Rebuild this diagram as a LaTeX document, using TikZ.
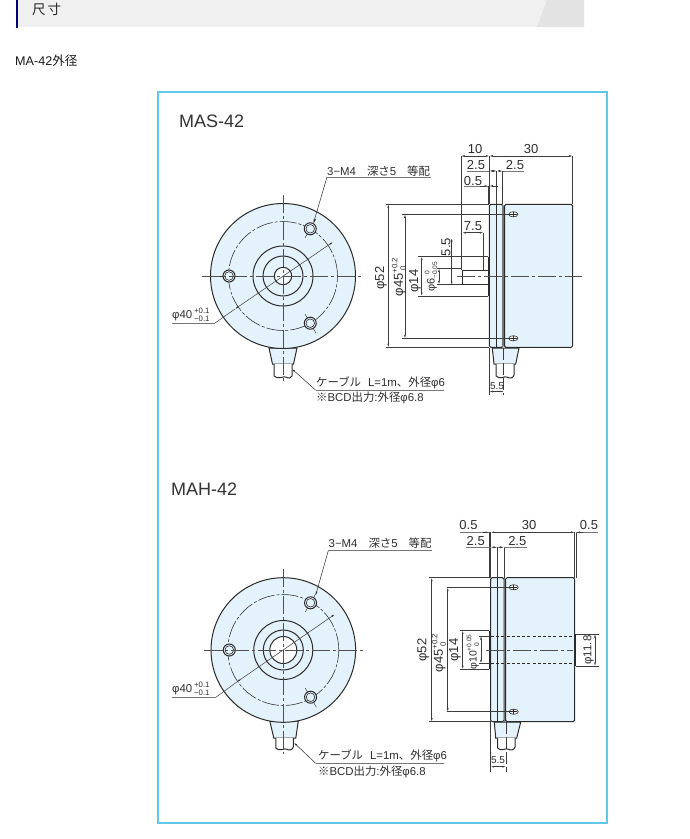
\documentclass[tikz,border=0pt]{standalone}
\usepackage{fontspec}
\setmainfont{Liberation Sans}
\newfontfamily\cjk{Noto Sans CJK JP}
\usetikzlibrary{arrows.meta}
\definecolor{bodyblue}{HTML}{E4F2FB}
\definecolor{ink}{HTML}{2B2B2B}
\definecolor{dimc}{HTML}{3C3C3C}
\definecolor{framec}{HTML}{62C6E6}
\newcommand\tolstack[2]{\raisebox{-3pt}{\fontsize{7.8}{8}\selectfont\shortstack[l]{#1\\#2}}}
\newcommand\tinytol[2]{\raisebox{-2.6pt}{\fontsize{6.6}{6.6}\selectfont\shortstack[l]{#1\\#2}}}
\tikzset{
  outl/.style={draw=ink,line width=1pt},
  thin line/.style={draw=dimc,line width=0.5pt},
  dimln/.style={draw=dimc,line width=0.5pt,{Latex[length=3.5pt,width=1.8pt]}-{Latex[length=3.5pt,width=1.8pt]}},
  ulead/.style={draw=dimc!70,line width=0.7pt},
  cline/.style={draw=dimc!90,line width=0.55pt,dash pattern=on 18pt off 3pt on 3pt off 3pt},
  pcd/.style={draw=ink,line width=0.55pt,dash pattern=on 17pt off 2pt on 3pt off 2pt},
  lab/.style={inner sep=0pt,text=black!82,font=\fontsize{13}{14}\selectfont},
  smlab/.style={inner sep=0pt,text=black!82,font=\fontsize{11.4}{12}\selectfont},
  vlab/.style={lab,rotate=90},
  heading/.style={inner sep=0pt,anchor=west,text=black!80,font=\fontsize{18}{18}\selectfont}
}
\newcommand\frontholes{%
  \foreach \a/\r in {180/54,-60/54.5,60/54.5}{
    \draw[thin line] (\a:44) -- (\a:66);
    \draw[outl,fill=bodyblue] (\a:\r) circle[radius=6pt];
    \draw[outl,line width=0.6pt] (\a:\r) circle[radius=4.3pt];
  }
}
\begin{document}
\begin{tikzpicture}[x=1pt,y=-1pt]
\useasboundingbox (0,0) rectangle (689,839);
\fill[white] (0,0) rectangle (689,839);
% header
\fill[black!6] (16,0) rectangle (584,27);
\fill[black!11] (537,27) -- (547,0) -- (584,0) -- (584,27) -- cycle;
\fill[blue!45!black] (16,0) rectangle (17.5,28);
\node[inner sep=0pt,anchor=west,text=black!85,font=\cjk\fontsize{13.5}{14}\selectfont] (hd) at (32,9) {尺\hspace{2pt}寸};
\node[inner sep=0pt,anchor=west,text=black!90,font=\fontsize{12.6}{13}\selectfont] (sub) at (15,61) {MA-42{\cjk 外径}};
\draw[framec,line width=1.4pt] (158,92) rectangle (607,823);

\node[heading] (t1) at (179,121) {MAS-42};
\node[heading] (t2) at (171,489) {MAH-42};

%%%%% MAS front
\begin{scope}[shift={(283,276)}]
  \draw[outl,fill=bodyblue] (-14,72) -- (-10.5,88) -- (10.5,88) -- (14,72) -- cycle;
  \draw[outl,fill=white] (-9,88) -- (-9,100) .. controls (-5,104) and (0,100) .. (3,101) .. controls (6,103) and (8,102) .. (9,100) -- (9,88);
  \draw[outl,fill=bodyblue] (0,0) circle[radius=72.5pt];
  \draw[pcd] (0,0) circle[radius=54.5pt];
  \frontholes
  \draw[outl] (0,0) circle[radius=30pt];
  \draw[outl] (0,0) circle[radius=20pt];
  \draw[outl,fill=bodyblue!40] (0,0) circle[radius=8.7pt];
  \draw[cline] (-81,0) -- (80,0);
  \draw[cline] (0,-81) -- (0,106);
  \draw[dimln] (50,-34) -- (-48,33);
  \draw[thin line] (-48,33) -- (-68,47);
\end{scope}
\draw[ulead] (215,323) -- (172,323);
\node[smlab,anchor=west] (a1) at (172,315) {φ40\,\tolstack{+0.1}{−0.1}};
\draw[ink,line width=0.5pt,-{Latex[length=3.5pt,width=1.8pt]}] (327,177) -- (313.5,223);
\draw[ulead] (327,177) -- (431,177);
\node[smlab,anchor=west] (a2) at (327,171) {3−M4\hspace{11pt}{\cjk 深さ}5\hspace{11pt}{\cjk 等配}};
\draw[ink,line width=0.5pt,-{Latex[length=3.5pt,width=1.8pt]}] (315.5,390) -- (292,369);
\draw[ulead] (315.5,390) -- (444,390);
\node[smlab,anchor=west] (a3) at (316,383) {{\cjk ケーブル}\hspace{7pt}L=1m{\cjk 、外径}φ6};
\node[smlab,anchor=west] (a4) at (316,398) {{\cjk ※}BCD{\cjk 出力}:{\cjk 外径}φ6.8};

%%%%% MAS side
\draw[outl,fill=bodyblue] (492.3,348) -- (494,364) -- (515.7,364) -- (519,348) -- cycle;
\draw[outl,fill=white] (496,364) -- (496,376) .. controls (500,380) and (504,376) .. (507,377) .. controls (510,379) and (513,378) .. (514,375) -- (514,364);
\draw[outl,fill=white] (462.3,270) rectangle (488,284.3);
\fill[ink] (487.5,256.7) rectangle (489.6,296);
\draw[outl,fill=bodyblue,rounded corners=1.5pt] (489.3,204.3) rectangle (503,347.3);
\draw[outl,fill=bodyblue,rounded corners=1.5pt] (504.5,204.3) rectangle (572.7,347.3);
\draw[outl] (496.7,204.3) -- (496.7,347.3);
\draw[draw=dimc!70,line width=1.2pt] (502.5,204.3) -- (502.5,347.3);
\foreach \yy in {214.3,338.3}{
  \draw[ink,fill=white,line width=0.6pt] (513.3,\yy) ellipse[x radius=4.6pt,y radius=2.6pt];
  \draw[ink,line width=0.5pt] (510,\yy) -- (516.6,\yy) (513.3,\yy-2.6) -- (513.3,\yy+2.6);
}
\draw[cline] (457,276.7) -- (582,276.7);
\draw[dimc,line width=0.5pt,dash pattern=on 12pt off 3pt] (503.7,348) -- (503.7,395);
% extension lines
\path[thin line] (461,156) -- (461,270)
  (489.3,156) -- (489.3,204) (572.7,156) -- (572.7,204)
  (496.7,171) -- (496.7,204) (502.7,171) -- (502.7,204)
  (488,186) -- (488,204)
  (483.3,232.7) -- (483.3,270)
  (386,204.3) -- (489.3,204.3) (386,347.3) -- (489.3,347.3)
  (402,214.3) -- (510,214.3) (402,338.3) -- (510,338.3)
  (418,256.7) -- (488,256.7) (418,296) -- (488,296)
  (437,268.3) -- (462,268.3) (437,284.3) -- (462,284.3)
  (489.3,348) -- (489.3,395);
\draw[dimln] (461,156) -- (489.3,156);
\draw[dimln] (489.3,156) -- (572.7,156);
\draw[dimln] (489.3,171) -- (496.7,171);
\draw[dimln] (496.7,171) -- (502.7,171);
\draw[ulead] (466.7,171) -- (489.3,171) (503,171) -- (524,171);
\draw[ulead] (464,186) -- (488,186);
\draw[thin line,-{Latex[length=3.5pt,width=1.8pt]}] (480,186) -- (488,186);
\draw[thin line,-{Latex[length=3.5pt,width=1.8pt]}] (498,186) -- (489.3,186);
\draw[dimln] (462.3,232.7) -- (483.3,232.7);
\draw[dimln] (451.7,238) -- (451.7,285);
\draw[dimln] (421.7,256.7) -- (421.7,296);
\draw[dimln] (439,268.3) -- (439,284.3);
\draw[dimln] (405,214.3) -- (405,338.3);
\draw[dimln] (388.3,204.3) -- (388.3,347.3);
\draw[dimln] (489.3,391.5) -- (504,391.5);
\node[lab] (b1) at (475,149) {10};
\node[lab] (b2) at (531,149) {30};
\node[lab] (b3) at (476,165) {2.5};
\node[lab] (b4) at (515,165) {2.5};
\node[lab] (b5) at (473,181) {0.5};
\node[lab] (b6) at (473,226) {7.5};
\node[vlab] (b7) at (446,247) {5.5};
\node[vlab] (b8) at (415,281) {φ14};
\node[vlab,font=\fontsize{11}{12}\selectfont] (b9) at (431,277) {φ6\tinytol{\,\,\,\,0}{−0.05}};
\node[vlab] (b10) at (399,277) {φ45\tolstack{+0.2}{\,\,0}};
\node[vlab] (b11) at (381,278) {φ52};
\node[inner sep=0pt,text=black!82,font=\fontsize{10}{10}\selectfont] (b12) at (497,386) {5.5};

%%%%% MAH front
\begin{scope}[shift={(283.3,650)}]
  \draw[outl,fill=bodyblue] (-13.5,71) -- (-9.5,88) -- (12.5,88) -- (15,71) -- cycle;
  \draw[outl,fill=white] (-7.5,88) -- (-7.5,98) .. controls (-4,102) and (1,98) .. (3,99) .. controls (6,101) and (9,100) .. (10,97) -- (10,88);
  \draw[outl,fill=bodyblue] (0,0) circle[radius=72.3pt];
  \draw[pcd] (0,0) circle[radius=55.5pt];
  \frontholes
  \draw[outl] (0,0) circle[radius=29.5pt];
  \draw[outl] (0,0) circle[radius=20pt];
  \draw[outl,fill=white] (0,0) circle[radius=13.5pt];
  \draw[cline] (-79,0) -- (81,0);
  \draw[cline] (0,-81) -- (0,104);
  \draw[dimln] (51.5,-35.7) -- (-46.5,32);
  \draw[thin line] (-46.5,32) -- (-68,47.7);
\end{scope}
\draw[ulead] (215,697.7) -- (172,697.7);
\node[smlab,anchor=west] (c1) at (172,689) {φ40\,\tolstack{+0.1}{−0.1}};
\draw[ink,line width=0.5pt,-{Latex[length=3.5pt,width=1.8pt]}] (328.3,550.7) -- (315.7,595);
\draw[ulead] (328.3,550.7) -- (432,550.7);
\node[smlab,anchor=west] (c2) at (328.5,543) {3−M4\hspace{11pt}{\cjk 深さ}5\hspace{11pt}{\cjk 等配}};
\draw[ink,line width=0.5pt,-{Latex[length=3.5pt,width=1.8pt]}] (315.7,763.3) -- (294,742.7);
\draw[ulead] (315.7,763.3) -- (444,763.3);
\node[smlab,anchor=west] (c3) at (318,756) {{\cjk ケーブル}\hspace{7pt}L=1m{\cjk 、外径}φ6};
\node[smlab,anchor=west] (c4) at (318,772) {{\cjk ※}BCD{\cjk 出力}:{\cjk 外径}φ6.8};

%%%%% MAH side
\draw[outl,fill=bodyblue] (494.3,722) -- (495.7,738) -- (516.7,738) -- (520.7,722) -- cycle;
\draw[outl,fill=white] (497.7,738) -- (497.7,748) .. controls (501,752) and (505,748) .. (508,749) .. controls (511,751) and (514,750) .. (515,747) -- (515,738);
\fill[ink] (488.9,630.7) rectangle (491,669.3);
\fill[ink] (574.3,634) rectangle (576.3,666);
\draw[outl,fill=bodyblue,rounded corners=1.5pt] (490.7,577.7) rectangle (504,721.7);
\draw[outl,fill=bodyblue,rounded corners=1.5pt] (505.5,577.7) rectangle (574.7,721.7);
\draw[outl] (497.3,577.7) -- (497.3,721.7);
\draw[draw=dimc!70,line width=1.2pt] (504.3,577.7) -- (504.3,721.7);
\foreach \yy in {587.3,711.7}{
  \draw[ink,fill=white,line width=0.6pt] (513.7,\yy) ellipse[x radius=4.6pt,y radius=2.6pt];
  \draw[ink,line width=0.5pt] (510.4,\yy) -- (517,\yy) (513.7,\yy-2.6) -- (513.7,\yy+2.6);
}
\draw[cline] (486,650) -- (573,650);
\draw[ink,line width=0.6pt,dash pattern=on 3pt off 2.2pt] (491,636) -- (574.7,636) (491,663.3) -- (574.7,663.3);
\draw[dimc,line width=0.5pt,dash pattern=on 12pt off 3pt] (506,722) -- (506,772);
\path[thin line] (489,532.3) -- (489,577.7) (490.7,532.3) -- (490.7,577.7)
  (497.3,547.3) -- (497.3,577.7) (504,547.3) -- (504,577.7)
  (574.7,532.3) -- (574.7,577.7) (576.3,532.3) -- (576.3,577.7)
  (429,577.7) -- (490.7,577.7) (429,721.7) -- (490.7,721.7)
  (446.7,587.5) -- (510,587.5) (446.7,711.7) -- (510,711.7)
  (460,630.7) -- (489,630.7) (460,669.3) -- (489,669.3)
  (479,636) -- (491,636) (479,663.3) -- (491,663.3)
  (576,634) -- (599,634) (576,666) -- (599,666)
  (490.7,722) -- (490.7,772);
\draw[dimln] (490.7,532.3) -- (574.7,532.3);
\draw[ulead] (460,532.3) -- (489,532.3) (576.3,532.3) -- (597.7,532.3);
\draw[thin line,-{Latex[length=3.5pt,width=1.8pt]}] (483,532.3) -- (489,532.3);
\draw[thin line,-{Latex[length=3.5pt,width=1.8pt]}] (583,532.3) -- (576.3,532.3);
\draw[dimln] (490.7,547.3) -- (497.3,547.3);
\draw[dimln] (497.3,547.3) -- (504,547.3);
\draw[ulead] (466,547.3) -- (490.7,547.3) (504,547.3) -- (526.7,547.3);
\draw[dimln] (431.7,577.7) -- (431.7,721.7);
\draw[dimln] (447.7,587.5) -- (447.7,711.7);
\draw[dimln] (462.7,630.7) -- (462.7,669.3);
\draw[dimln] (481,636) -- (481,663.3);
\draw[dimln] (595,634) -- (595,666);
\draw[dimln] (490.7,766.7) -- (506,766.7);
\node[lab] (d1) at (468.5,525.5) {0.5};
\node[lab] (d2) at (529,525.5) {30};
\node[lab] (d3) at (589,525.5) {0.5};
\node[lab] (d4) at (475.7,541) {2.5};
\node[lab] (d5) at (517.3,541) {2.5};
\node[vlab] (d6) at (423.3,650) {φ52};
\node[vlab] (d7) at (439,653) {φ45\tolstack{+0.2}{\,\,0}};
\node[vlab] (d8) at (455,650) {φ14};
\node[vlab,font=\fontsize{10.5}{11}\selectfont] (d9) at (473,652) {φ10\tinytol{+0.05}{\,\,\,\,0}};
\node[vlab,font=\fontsize{11.5}{12}\selectfont] (d10) at (588.5,650) {φ11.8};
\node[inner sep=0pt,text=black!82,font=\fontsize{10}{10}\selectfont] (d11) at (498,760) {5.5};
\end{tikzpicture}
\end{document}
